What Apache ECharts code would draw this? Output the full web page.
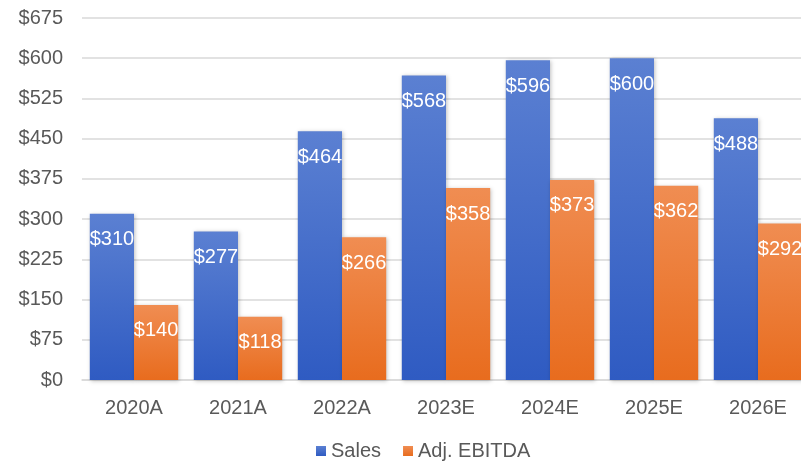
<!DOCTYPE html>
<html><head><meta charset="utf-8">
<script src="https://cdn.jsdelivr.net/npm/echarts@6/dist/echarts.min.js"></script>
<style>html,body{margin:0;padding:0;background:#fff;overflow:hidden;width:801px;height:463px}#c{width:810px;height:463px}</style>
</head><body><div id="c"></div>
<script>
const categories = ['2020A','2021A','2022A','2023E','2024E','2025E','2026E'];
const sales = [310, 277, 464, 568, 596, 600, 488];
const ebitda = [140, 118, 266, 358, 373, 362, 292];
const yTicks = [0, 75, 150, 225, 300, 375, 450, 525, 600, 675];

const chart = echarts.init(document.getElementById('c'));
const font = 'Liberation Sans, Arial, sans-serif';
function grad(top, bottom){
  return new echarts.graphic.LinearGradient(0,0,0,1,[{offset:0,color:top},{offset:1,color:bottom}]);
}
const lbl = {show:true, position:'insideTop', distance:16, color:'#fff', fontSize:20, fontFamily:font,
  formatter: p => '$' + p.value};
chart.setOption({
  animation:false,
  grid:{left:82, right:0, top:18, bottom:83, containLabel:false},
  legend:{top:436, left:311, itemWidth:10, itemHeight:10, itemGap:22, icon:'rect',
    textStyle:{color:'#595959', fontSize:20, fontFamily:font},
    data:['Sales','Adj. EBITDA']},
  xAxis:{type:'category', data:categories,
    axisLine:{lineStyle:{color:'#d9d9d9', width:1.5}}, axisTick:{show:false},
    axisLabel:{color:'#595959', fontSize:20, fontFamily:font, margin:18}},
  yAxis:{type:'value', min:yTicks[0], max:yTicks[yTicks.length-1], interval:75,
    axisLine:{show:false}, axisTick:{show:false},
    splitLine:{lineStyle:{color:'#d9d9d9', width:1.5}},
    axisLabel:{color:'#595959', fontSize:20, fontFamily:font, margin:19, formatter: v => '$' + v}},
  series:[
    {name:'Sales', type:'bar', data:sales, barGap:'0%', barCategoryGap:'15%',
      itemStyle:{color:grad('#5b80d2','#2f5bc2'), shadowColor:'rgba(0,0,0,0.25)', shadowBlur:4, shadowOffsetX:1, shadowOffsetY:1},
      label:lbl},
    {name:'Adj. EBITDA', type:'bar', data:ebitda,
      itemStyle:{color:grad('#f08d52','#e86c1e'), shadowColor:'rgba(0,0,0,0.25)', shadowBlur:4, shadowOffsetX:1, shadowOffsetY:1},
      label:lbl}
  ]
});
</script></body></html>
